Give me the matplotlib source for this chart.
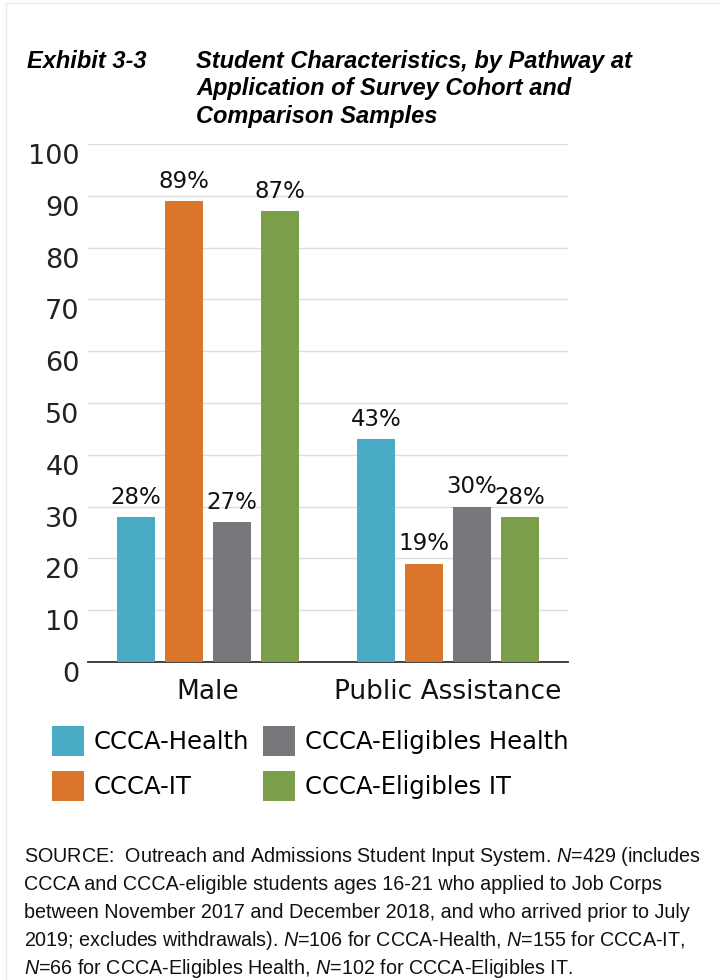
import numpy as np
import matplotlib.pyplot as plt
from matplotlib.lines import Line2D

categories = ['Male', 'Public Assistance']
series_names = ['CCCA-Health', 'CCCA-IT', 'CCCA-Eligibles Health', 'CCCA-Eligibles IT']
health = [28, 43]
it = [89, 19]
elig_health = [27, 30]
elig_it = [87, 28]
colours = ['#4AABC6', '#D9762B', '#77787B', '#7A9E4A']
y_ticks = [0, 10, 20, 30, 40, 50, 60, 70, 80, 90, 100]

title_lines = ['Student Characteristics, by Pathway at',
               'Application of Survey Cohort and',
               'Comparison Samples']
source_lines = ['SOURCE:  Outreach and Admissions Student Input System. $N$=429 (includes',
                'CCCA and CCCA-eligible students ages 16-21 who applied to Job Corps',
                'between November 2017 and December 2018, and who arrived prior to July',
                '2019; excludes withdrawals). $N$=106 for CCCA-Health, $N$=155 for CCCA-IT,',
                '$N$=66 for CCCA-Eligibles Health, $N$=102 for CCCA-Eligibles IT.']

plt.rcParams['mathtext.fontset'] = 'custom'
plt.rcParams['mathtext.it'] = 'Liberation Sans:italic'
plt.rcParams['mathtext.rm'] = 'Liberation Sans'

fig = plt.figure(figsize=(7.2, 9.8), dpi=100)
ax = fig.add_axes([88 / 720, 1 - 662 / 980, 480 / 720, 518 / 980])

x = np.arange(len(categories))
width = 0.158
step = 0.2
for i, (vals, name) in enumerate(zip([health, it, elig_health, elig_it], series_names)):
    bars = ax.bar(x + (i - 1.5) * step, vals, width, color=colours[i], label=name, zorder=3)
    ax.bar_label(bars, labels=['%d%%' % v for v in vals], padding=6,
                 fontsize=16.5, color='#111111')

ax.set_xlim(-0.5, 1.5)
ax.set_ylim(0, 100)
ax.set_yticks(y_ticks)
ax.set_yticklabels([str(t) for t in y_ticks], fontsize=19.5, color='#222222', va='top')
ax.set_xticks(x)
ax.set_xticklabels(categories, fontsize=19, color='#111111')
ax.tick_params(axis='both', length=0)
ax.tick_params(axis='y', pad=6)
ax.tick_params(axis='x', pad=12)
ax.yaxis.grid(True, color='#DDDDDD', linewidth=1, zorder=0)
for side in ['top', 'right', 'left']:
    ax.spines[side].set_visible(False)
ax.spines['bottom'].set_color('#333333')
ax.spines['bottom'].set_linewidth(1.3)

leg = fig.legend(loc='upper left', bbox_to_anchor=(52 / 720, 1 - 726 / 980),
                 ncol=2, frameon=False, fontsize=17.5, borderpad=0, borderaxespad=0,
                 handlelength=1.3, handleheight=1.5, handletextpad=0.4,
                 columnspacing=0.6, labelspacing=0.65)

title_font = dict(family='Liberation Sans', weight='bold', style='italic', fontsize=17)
fig.text(27 / 720, 1 - 68 / 980, 'Exhibit 3-3', va='baseline', **title_font)
for k, line in enumerate(title_lines):
    fig.text(196 / 720, 1 - (68 + 27.5 * k) / 980, line, va='baseline', **title_font)

# source note, one line at a time so the italic N does not change the spacing
for k, line in enumerate(source_lines):
    fig.text(24 / 720, 1 - (862 + 28 * k) / 980, line, va='baseline',
             family='Liberation Sans', fontsize=14.2, color='#111111')

# thin frame along the top and left edges
fig.add_artist(Line2D([6 / 720, 6 / 720], [0, 1 - 3 / 980], color='#EAEAEA', lw=1))
fig.add_artist(Line2D([6 / 720, 1], [1 - 3 / 980, 1 - 3 / 980], color='#EAEAEA', lw=1))

fig.savefig('out.png', dpi=100)
